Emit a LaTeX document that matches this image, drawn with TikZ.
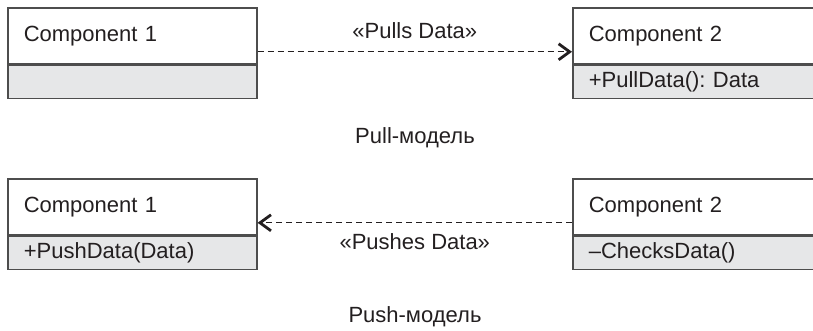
\documentclass[tikz,border=0pt]{standalone}
\usepackage{fontspec}
\setmainfont{Liberation Sans}
\usetikzlibrary{arrows.meta}
\frenchspacing

\definecolor{linegray}{HTML}{4D4D4D}
\definecolor{compgray}{HTML}{E6E7E8}
\definecolor{inkgray}{HTML}{231F20}

\tikzset{
  every node/.style={text=inkgray, font=\fontsize{11pt}{13pt}\selectfont},
  header/.style={draw=linegray, line width=0.8pt, anchor=north west, inner xsep=8pt, inner ysep=0pt,
    text width=108.5pt, align=left, minimum height=28pt},
  compart/.style={draw=linegray, line width=0.8pt, fill=compgray, anchor=north west, inner xsep=8pt,
    inner ysep=0pt, text width=108.5pt, align=left, minimum height=16.5pt},
  depend/.style={draw=inkgray, line width=0.7pt, dash pattern=on 3pt off 2pt,
    -{Straight Barb[length=5.5pt,width=8pt,line width=1.4pt]}}
}

\begin{document}
\begin{tikzpicture}[x=0.5pt, y=-0.5pt]
    \useasboundingbox (0,0) rectangle (813,331);
    \clip (0,0) rectangle (813,331);
    % pull
    \node [header] (pullA) at (7,7) {Component 1};
    \node [compart] (pullAops) at (pullA.south west) {\strut};
    \node [header] (pullB) at (572,7) {Component 2};
    \node [compart] (pullBops) at (pullB.south west) {+PullData(): Data};
    \draw [depend] ([yshift=-8pt]pullA.east) -- ([yshift=-8pt]pullB.west)
        node [midway, above=3pt] (pullLbl) {«Pulls Data»};
    \node (pullCap) at (415,138) {Pull-модель};
    % push
    \node [header] (pushA) at (7,178) {Component 1};
    \node [compart] (pushAops) at (pushA.south west) {+PushData(Data)};
    \node [header] (pushB) at (572,178) {Component 2};
    \node [compart] (pushBops) at (pushB.south west) {–ChecksData()};
    \draw [depend] ([yshift=-8pt]pushB.west) -- ([yshift=-8pt]pushA.east)
        node [midway, below=1.5pt] (pushLbl) {«Pushes Data»};
    \node (pushCap) at (415,317) {Push-модель};
\end{tikzpicture}
\end{document}
